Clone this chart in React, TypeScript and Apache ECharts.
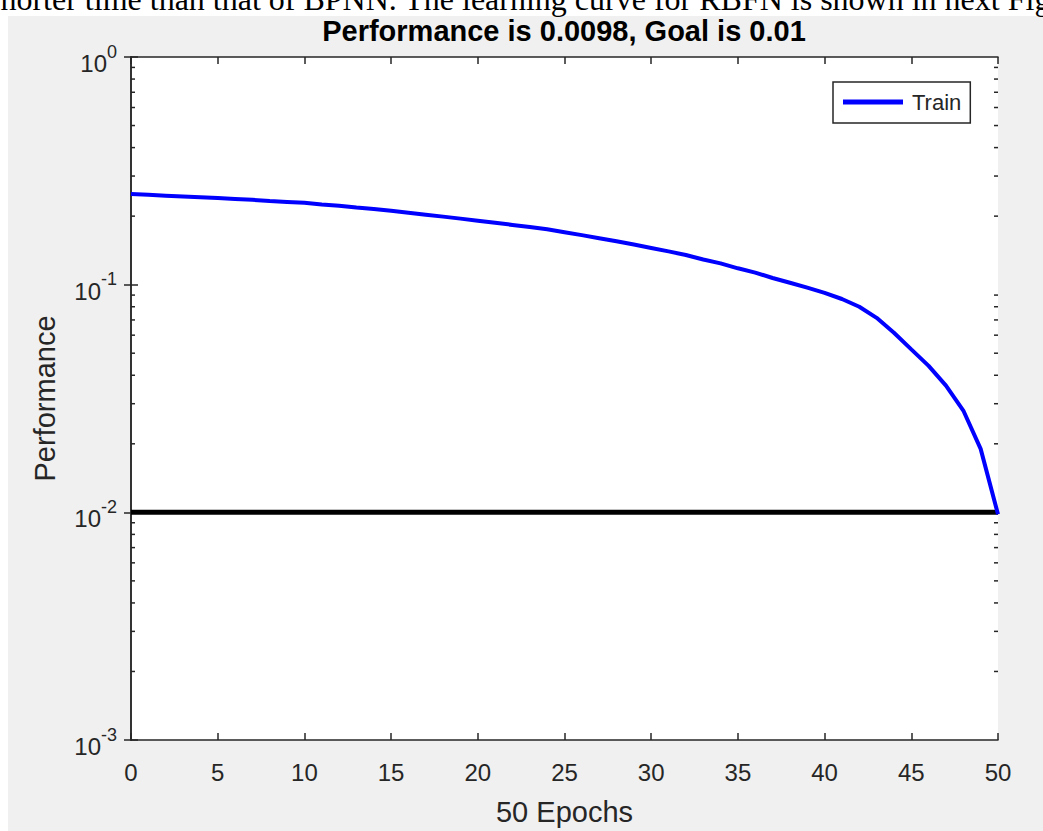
import React, { useEffect, useRef } from "react";
import * as echarts from "echarts";

const epochs: number[] = [
  0, 1, 2, 3, 4, 5, 6, 7, 8, 9, 10, 11, 12, 13, 14, 15, 16, 17, 18, 19, 20,
  21, 22, 23, 24, 25, 26, 27, 28, 29, 30, 31, 32, 33, 34, 35, 36, 37, 38, 39,
  40, 41, 42, 43, 44, 45, 46, 47, 48, 49, 50,
];
const trainPerf: number[] = [
  0.25, 0.248, 0.246, 0.244, 0.242, 0.24, 0.238, 0.236, 0.233, 0.231, 0.229,
  0.225, 0.222, 0.218, 0.215, 0.211, 0.207, 0.203, 0.199, 0.195, 0.191, 0.187,
  0.183, 0.179, 0.175, 0.17, 0.165, 0.16, 0.155, 0.15, 0.145, 0.14, 0.135,
  0.129, 0.124, 0.118, 0.113, 0.107, 0.102, 0.097, 0.092, 0.0865, 0.08, 0.0715,
  0.0615, 0.052, 0.044, 0.036, 0.028, 0.019, 0.0098,
];
const goalEpochs: number[] = [0, 50];
const goalValue = 0.01;
const minorTicks: number[] = [
  0.002, 0.003, 0.004, 0.005, 0.006, 0.007, 0.008, 0.009,
  0.02, 0.03, 0.04, 0.05, 0.06, 0.07, 0.08, 0.09,
  0.2, 0.3, 0.4, 0.5, 0.6, 0.7, 0.8, 0.9,
];
const titleText = "Performance is 0.0098, Goal is 0.01";
const xName = "50 Epochs";
const yName = "Performance";
const topSentence =
  "shorter time than that of BPNN. The learning curve for RBFN is shown in next Figure";

const AX = "#262626";
const FONT = "'Liberation Sans', Arial, sans-serif";

export default function App() {
  const ref = useRef<HTMLDivElement>(null);
  useEffect(() => {
    if (!ref.current) return;
    const chart = echarts.init(ref.current, null, { renderer: "svg" });
    const yLabel = (v: number) => {
      const e = Math.round(Math.log10(v));
      return `{b|10}{e|${e}}`;
    };
    const option: any = {
      animation: false,
      backgroundColor: "#f0f0f0",
      textStyle: { fontFamily: FONT },
      title: {
        text: titleText,
        left: 564,
        textAlign: "center",
        top: 16,
        padding: 0,
        textStyle: { fontFamily: FONT, fontSize: 29, fontWeight: "bold", color: "#000" },
      },
      graphic: [
        { type: "rect", shape: { x: 0, y: 0, width: 1043, height: 16 }, style: { fill: "#fff" }, z: 10 },
        { type: "rect", shape: { x: 0, y: 0, width: 8, height: 831 }, style: { fill: "#fff" }, z: 10 },
        {
          type: "text",
          x: -12,
          y: 15,
          z: 11,
          style: {
            text: topSentence,
            font: "32px 'Liberation Serif', 'Times New Roman', serif",
            fill: "#000",
            verticalAlign: "bottom",
          },
        },
      ],
      grid: {
        left: 131,
        top: 57,
        right: 45,
        bottom: 90,
        show: true,
        backgroundColor: "#fff",
        borderWidth: 0,
      },
      legend: {
        data: [{ name: "Train", icon: "rect" }],
        left: 833,
        top: 82,
        itemWidth: 60,
        itemHeight: 5,
        padding: [9, 9, 10, 10],
        backgroundColor: "#fff",
        borderColor: AX,
        borderWidth: 1.5,
        textStyle: { fontFamily: FONT, fontSize: 22, color: AX, padding: [0, 0, 0, 4] },
      },
      xAxis: [
        {
          type: "value",
          min: 0,
          max: 50,
          interval: 5,
          position: "bottom",
          axisLine: { show: true, lineStyle: { color: AX, width: 1.5 } },
          axisTick: { show: true, inside: true, length: 7, lineStyle: { color: AX, width: 1.5 } },
          splitLine: { show: false },
          axisLabel: { color: AX, fontSize: 24, margin: 20, fontFamily: FONT },
          name: xName,
          nameLocation: "middle",
          nameGap: 57,
          nameTextStyle: { color: AX, fontSize: 29, fontFamily: FONT },
        },
        {
          type: "value",
          min: 0,
          max: 50,
          interval: 5,
          position: "top",
          axisLine: { show: true, lineStyle: { color: AX, width: 1.5 } },
          axisTick: { show: true, inside: true, length: 7, lineStyle: { color: AX, width: 1.5 } },
          splitLine: { show: false },
          axisLabel: { show: false },
        },
      ],
      yAxis: [
        {
          type: "log",
          logBase: 10,
          min: 0.001,
          max: 1,
          position: "left",
          axisLine: { show: true, lineStyle: { color: AX, width: 1.5 } },
          axisTick: { show: true, inside: true, length: 7, lineStyle: { color: AX, width: 1.5 } },
          splitLine: { show: false },
          axisLabel: {
            margin: 14,
            formatter: yLabel,
            rich: {
              b: {
                fontSize: 24,
                lineHeight: 37,
                color: AX,
                fontFamily: FONT,
                verticalAlign: "bottom",
              },
              e: {
                fontSize: 18,
                lineHeight: 33,
                color: AX,
                fontFamily: FONT,
                verticalAlign: "top",
                padding: [4, 0, 0, 0],
              },
            },
          },
          name: yName,
          nameLocation: "middle",
          nameGap: 72,
          nameTextStyle: { color: AX, fontSize: 29, fontFamily: FONT },
        },
        {
          type: "log",
          logBase: 10,
          min: 0.001,
          max: 1,
          position: "right",
          axisLine: { show: true, lineStyle: { color: AX, width: 1.5 } },
          axisTick: { show: true, inside: true, length: 7, lineStyle: { color: AX, width: 1.5 } },
          splitLine: { show: false },
          axisLabel: { show: false },
        },
      ],
      series: [
        {
          name: "Minor ticks",
          type: "custom",
          xAxisIndex: 0,
          yAxisIndex: 0,
          silent: true,
          clip: false,
          data: minorTicks.map((v) => [0, v]),
          renderItem: (params: any, api: any) => {
            const v = api.value(1);
            const l = api.coord([0, v]);
            const r = api.coord([50, v]);
            const st = { stroke: AX, lineWidth: 1.5 };
            return {
              type: "group",
              children: [
                { type: "line", shape: { x1: l[0], y1: l[1], x2: l[0] + 4, y2: l[1] }, style: st },
                { type: "line", shape: { x1: r[0] - 4, y1: r[1], x2: r[0], y2: r[1] }, style: st },
              ],
            };
          },
        },
        {
          name: "Goal",
          type: "line",
          xAxisIndex: 0,
          yAxisIndex: 0,
          data: goalEpochs.map((e) => [e, goalValue]),
          showSymbol: false,
          lineStyle: { color: "#000", width: 5 },
          itemStyle: { color: "#000" },
        },
        {
          name: "Train",
          type: "line",
          xAxisIndex: 0,
          yAxisIndex: 0,
          data: epochs.map((e, i) => [e, trainPerf[i]]),
          showSymbol: false,
          lineStyle: { color: "#0000ff", width: 4 },
          itemStyle: { color: "#0000ff" },
        },
      ],
    };
    chart.setOption(option);
    return () => chart.dispose();
  }, []);
  return (
    <div
      ref={ref}
      style={{ position: "fixed", left: 0, top: 0, width: 1043, height: 831 }}
    />
  );
}
